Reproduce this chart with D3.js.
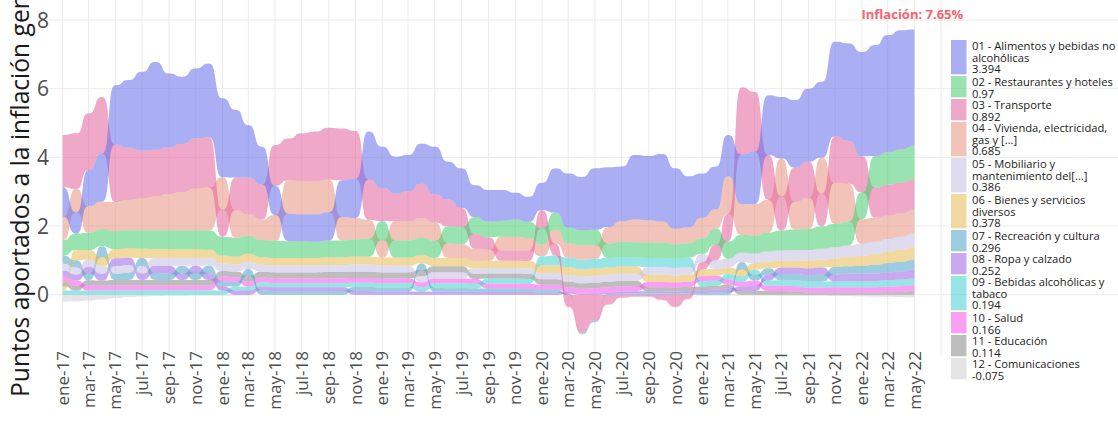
<!DOCTYPE html>
<html><head><meta charset="utf-8">
<script src="https://cdn.jsdelivr.net/npm/d3@7"></script>
<style>
body{margin:0;background:#fff;}
svg{display:block;font-family:"Open Sans",sans-serif;}
</style></head><body>
<svg id="chart" width="1118" height="424"></svg>
<script>
// ---------- DATA ----------
const months = ["ene-17","feb-17","mar-17","abr-17","may-17","jun-17","jul-17","ago-17","sep-17","oct-17","nov-17","dic-17",
"ene-18","feb-18","mar-18","abr-18","may-18","jun-18","jul-18","ago-18","sep-18","oct-18","nov-18","dic-18",
"ene-19","feb-19","mar-19","abr-19","may-19","jun-19","jul-19","ago-19","sep-19","oct-19","nov-19","dic-19",
"ene-20","feb-20","mar-20","abr-20","may-20","jun-20","jul-20","ago-20","sep-20","oct-20","nov-20","dic-20",
"ene-21","feb-21","mar-21","abr-21","may-21","jun-21","jul-21","ago-21","sep-21","oct-21","nov-21","dic-21",
"ene-22","feb-22","mar-22","abr-22","may-22"];

const alimentos = [0.86,0.62,1.05,1.40,1.73,1.97,2.29,2.56,2.15,1.96,2.04,2.15,
2.30,1.97,1.53,1.10,0.85,0.80,0.78,0.80,0.82,1.07,1.15,1.40,
1.20,1.08,1.06,1.17,1.39,1.10,1.15,0.93,0.92,0.90,0.78,0.73,
0.80,1.29,1.58,1.55,1.79,1.74,1.59,1.88,1.87,1.97,1.76,1.49,
1.29,1.25,1.20,1.45,1.52,1.75,1.79,1.97,2.13,2.21,2.76,2.84,
3.04,3.23,3.41,3.47,3.394];
const restaurantes = [0.45,0.48,0.50,0.50,0.52,0.53,0.54,0.55,0.55,0.55,0.55,0.56,
0.55,0.55,0.53,0.50,0.50,0.49,0.49,0.47,0.49,0.49,0.50,0.52,
0.55,0.50,0.50,0.50,0.50,0.50,0.50,0.50,0.46,0.46,0.50,0.47,
0.48,0.50,0.45,0.44,0.45,0.42,0.44,0.44,0.44,0.44,0.42,0.42,
0.45,0.48,0.50,0.52,0.52,0.55,0.58,0.60,0.62,0.65,0.68,0.70,
0.78,0.92,0.95,0.96,0.97];
const transporte = [1.52,1.62,1.65,1.65,1.67,1.52,1.40,1.36,1.36,1.40,1.46,1.46,
0.78,0.95,1.07,1.02,1.19,1.22,1.39,1.44,1.51,1.51,1.39,1.17,
0.97,0.80,0.87,1.00,0.82,0.78,0.56,0.42,0.36,0.30,0.28,0.30,
0.52,0.35,-0.35,-1.10,-0.75,-0.28,-0.08,-0.05,-0.05,-0.15,-0.35,-0.12,
0.22,0.45,0.80,1.95,1.75,1.30,1.00,1.00,1.05,0.95,1.35,1.25,
1.05,0.88,0.90,0.90,0.892];
const vivienda = [0.68,0.68,0.78,0.80,0.85,0.88,0.92,0.98,1.05,1.12,1.22,1.25,
0.95,0.80,0.62,0.60,0.75,0.97,0.97,0.97,0.95,0.68,0.62,0.55,
0.50,0.56,0.56,0.58,0.53,0.42,0.40,0.36,0.32,0.40,0.42,0.37,
0.34,0.40,0.42,0.42,0.40,0.48,0.60,0.66,0.66,0.62,0.45,0.46,
0.60,0.55,1.10,0.90,0.92,0.95,1.10,0.80,0.90,1.05,1.20,1.10,
0.72,0.70,0.68,0.68,0.685];
const mobiliario = [0.20,0.20,0.21,0.21,0.22,0.22,0.22,0.23,0.23,0.23,0.23,0.23,
0.22,0.21,0.21,0.20,0.20,0.20,0.20,0.20,0.20,0.20,0.21,0.21,
0.20,0.19,0.19,0.18,0.18,0.18,0.18,0.16,0.16,0.16,0.16,0.16,
0.17,0.18,0.19,0.19,0.20,0.20,0.21,0.21,0.22,0.22,0.22,0.23,
0.24,0.25,0.26,0.27,0.28,0.29,0.30,0.30,0.31,0.32,0.33,0.34,
0.35,0.36,0.37,0.38,0.386];
const bienes = [0.13,0.30,0.28,0.27,0.27,0.27,0.27,0.26,0.26,0.25,0.25,0.24,
0.23,0.23,0.23,0.22,0.22,0.22,0.22,0.22,0.23,0.23,0.23,0.23,
0.24,0.24,0.24,0.24,0.24,0.24,0.24,0.21,0.21,0.21,0.21,0.21,
0.23,0.23,0.23,0.22,0.21,0.21,0.21,0.21,0.21,0.21,0.20,0.20,
0.19,0.19,0.19,0.19,0.19,0.20,0.20,0.21,0.22,0.23,0.24,0.26,
0.29,0.31,0.33,0.35,0.378];
const recreacion = [0.24,0.21,0.19,0.32,0.18,0.21,0.23,0.20,0.19,0.22,0.20,0.21,
0.14,0.13,0.20,0.12,0.11,0.11,0.11,0.11,0.11,0.11,0.12,0.12,
0.11,0.11,0.11,0.19,0.11,0.10,0.10,0.10,0.10,0.10,0.10,0.09,
0.09,0.09,0.03,-0.04,-0.04,0.02,0.03,0.04,0.04,0.04,0.03,0.04,
0.05,0.06,0.08,0.22,0.16,0.18,0.18,0.18,0.19,0.20,0.22,0.22,
0.23,0.25,0.27,0.28,0.296];
const ropa = [0.17,0.18,0.20,0.20,0.23,0.22,0.19,0.21,0.22,0.19,0.21,0.20,
0.13,0.12,0.12,0.12,0.11,0.11,0.11,0.11,0.11,0.11,0.11,0.11,
0.09,0.09,0.09,0.09,0.09,0.09,0.09,0.08,0.08,0.08,0.08,0.08,
0.06,0.06,0.05,0.03,0.04,0.05,0.06,0.06,0.06,0.06,0.06,0.07,
0.08,0.09,0.10,0.12,0.15,0.17,0.19,0.19,0.20,0.21,0.20,0.21,
0.21,0.22,0.23,0.24,0.252];
const bebidas = [0.12,0.12,0.12,0.12,0.13,0.13,0.13,0.13,0.13,0.13,0.13,0.13,
0.12,0.12,0.12,0.12,0.12,0.12,0.12,0.12,0.12,0.12,0.12,0.12,
0.13,0.13,0.13,0.13,0.13,0.14,0.14,0.14,0.15,0.15,0.15,0.15,
0.27,0.28,0.28,0.28,0.28,0.28,0.28,0.27,0.27,0.27,0.27,0.27,
0.15,0.15,0.16,0.16,0.16,0.16,0.16,0.17,0.17,0.17,0.17,0.18,
0.18,0.18,0.19,0.19,0.194];
const salud = [0.15,0.15,0.15,0.14,0.14,0.14,0.14,0.14,0.14,0.14,0.14,0.14,
0.14,0.14,0.14,0.14,0.14,0.14,0.14,0.14,0.14,0.14,0.14,0.14,
0.14,0.14,0.14,0.14,0.14,0.14,0.14,0.14,0.14,0.14,0.14,0.14,
0.14,0.14,0.14,0.14,0.15,0.15,0.15,0.15,0.15,0.15,0.15,0.15,
0.15,0.15,0.15,0.15,0.15,0.15,0.15,0.15,0.15,0.15,0.16,0.16,
0.16,0.16,0.16,0.17,0.166];
const educacion = [0.13,0.14,0.15,0.15,0.16,0.16,0.16,0.16,0.16,0.16,0.16,0.16,
0.16,0.16,0.17,0.17,0.17,0.17,0.17,0.17,0.18,0.18,0.18,0.18,
0.18,0.18,0.18,0.18,0.18,0.18,0.18,0.15,0.15,0.15,0.15,0.15,
0.16,0.16,0.16,0.16,0.16,0.16,0.16,0.15,0.12,0.12,0.12,0.12,
0.11,0.11,0.11,0.11,0.11,0.11,0.11,0.10,0.06,0.06,0.06,0.06,
0.06,0.06,0.07,0.08,0.114];
const comunicaciones = [-0.20,-0.19,-0.17,-0.14,-0.10,-0.07,-0.05,-0.04,-0.03,-0.03,-0.02,-0.02,
-0.03,-0.02,-0.02,-0.01,-0.01,-0.01,-0.01,-0.01,-0.01,-0.01,-0.01,-0.01,
-0.01,-0.01,-0.01,-0.01,-0.01,-0.01,-0.01,-0.01,-0.01,-0.01,-0.01,-0.01,
-0.01,-0.01,-0.02,-0.02,-0.02,-0.02,-0.02,-0.02,-0.02,-0.02,-0.02,-0.02,
-0.02,-0.02,-0.02,-0.02,-0.02,-0.02,-0.03,-0.03,-0.03,-0.03,-0.04,-0.04,
-0.05,-0.06,-0.06,-0.07,-0.075];

const seriesLabels = [
  ["01 - Alimentos y bebidas no","alcohólicas"],
  ["02 - Restaurantes y hoteles"],
  ["03 - Transporte"],
  ["04 - Vivienda, electricidad,","gas y [...]"],
  ["05 - Mobiliario y","mantenimiento del[...]"],
  ["06 - Bienes y servicios","diversos"],
  ["07 - Recreación y cultura"],
  ["08 - Ropa y calzado"],
  ["09 - Bebidas alcohólicas y","tabaco"],
  ["10 - Salud"],
  ["11 - Educación"],
  ["12 - Comunicaciones"]
];
const seriesValues = [alimentos,restaurantes,transporte,vivienda,mobiliario,bienes,recreacion,ropa,bebidas,salud,educacion,comunicaciones];
const yTicks = [0,2,4,6,8];
const inflacionLabel = "Inflación: 7.65%";
const yTitle = "Puntos aportados a la inflación general";

// ---------- STYLE ----------
const colors = ["#646ce7","#44cc6f","#e4619b","#e7927e","#c7bfe4","#e7ba52","#4da0c7","#9b63e7","#42d2d0","#f452eb","#878787","#cecece"];
const fillOpacity = 0.55;
const W = 1118, H = 424;

const svg = d3.select("#chart");
const dates = months.map((m,i)=> new Date(2017, i, 1));
const x = d3.scaleTime().domain([dates[0], dates[dates.length-1]]).range([62.7, 914.4]);
const y = d3.scaleLinear().domain([0, 8]).range([294.7, 20]);

// grid
const grid = svg.append("g");
yTicks.forEach(t=>{
  grid.append("line").attr("x1",48).attr("x2",W).attr("y1",y(t)).attr("y2",y(t))
    .attr("stroke","#ebebeb").attr("stroke-width",1);
});
const gridDates = d3.timeMonth.every(2).range(new Date(2017,0,1), new Date(2022,7,1));
gridDates.forEach(d=>{
  grid.append("line").attr("x1",x(d)).attr("x2",x(d)).attr("y1",0).attr("y2",356)
    .attr("stroke","#ebebeb").attr("stroke-width",1);
});

// stacking (rank order per month, diverging)
const n = months.length;
const stacks = seriesValues.map(()=>new Array(n));
for (let i=0;i<n;i++){
  const idx = seriesValues.map((s,k)=>k).sort((a,b)=> (seriesValues[a][i]-seriesValues[b][i]) || (a-b));
  let pos=0, neg=0;
  idx.forEach(k=>{
    const v = seriesValues[k][i];
    if (v>=0){ stacks[k][i]=[pos,pos+v]; pos+=v; }
    else { stacks[k][i]=[neg+v,neg]; neg+=v; }
  });
}

// sigmoid smoothing between consecutive months
const SM = 5.5, STEPS = 30;
const s0 = 1/(1+Math.exp(SM)), s1 = 1/(1+Math.exp(-SM));
const sig = t => (1/(1+Math.exp(-SM*(2*t-1))) - s0)/(s1-s0);

const area = d3.area().x(d=>x(d.date)).y0(d=>y(d.lo)).y1(d=>y(d.hi));
const bands = svg.append("g");
for (let k=seriesValues.length-1;k>=0;k--){
  const pts=[];
  for (let i=0;i<n-1;i++){
    const a=stacks[k][i], b=stacks[k][i+1];
    const t0=dates[i].getTime(), t1=dates[i+1].getTime();
    for (let j=0;j<STEPS;j++){
      const t=j/STEPS, s=sig(t);
      pts.push({date:new Date(t0+t*(t1-t0)), lo:a[0]+(b[0]-a[0])*s, hi:a[1]+(b[1]-a[1])*s});
    }
  }
  pts.push({date:dates[n-1], lo:stacks[k][n-1][0], hi:stacks[k][n-1][1]});
  bands.append("path").attr("d",area(pts)).attr("fill",colors[k]).attr("fill-opacity",fillOpacity);
}

// annotation
const lastTop = d3.max(stacks, s=>s[n-1][1]);
svg.append("text").attr("x",x(dates[n-1])-2).attr("y",y(lastTop)-10.5)
  .attr("text-anchor","middle").attr("font-weight","bold").attr("font-size",13)
  .attr("fill","#f8636b").text(inflacionLabel);

// y axis labels
yTicks.forEach(t=>{
  svg.append("text").attr("x",49).attr("y",y(t)).attr("dy","0.36em")
    .attr("text-anchor","end").attr("font-size",21).attr("fill","#4d4d4d").text(t);
});
// y title
svg.append("text").attr("transform","translate(29,397) rotate(-90)")
  .attr("font-size",24.6).attr("fill","#1a1a1a").text(yTitle);

// x axis labels
months.forEach((m,i)=>{
  if (i%2!==0) return;
  svg.append("text").attr("transform",`translate(${x(dates[i])},351) rotate(-90)`)
    .attr("text-anchor","end").attr("dy","0.36em").attr("font-size",17).attr("fill","#4d4d4d").text(m);
});

// legend
const leg = svg.append("g");
let ly = 40;
seriesLabels.forEach((lines,k)=>{
  const all = lines.concat([String(seriesValues[k][n-1])]);
  const h = all.length===3 ? 34.3 : 21.3;
  leg.append("rect").attr("x",951).attr("y",ly).attr("width",15.5).attr("height",h)
    .attr("fill",colors[k]).attr("fill-opacity",fillOpacity);
  const txt = leg.append("text").attr("x",972).attr("y",ly+10).attr("font-size",11.2)
      .attr("fill","#1a1a1a");
  all.forEach((t,j)=>{
    txt.append("tspan").attr("x",972).attr("dy", j===0 ? 0 : 11.6).text(t);
  });
  ly += h+1.7;
});
</script>
</body></html>
